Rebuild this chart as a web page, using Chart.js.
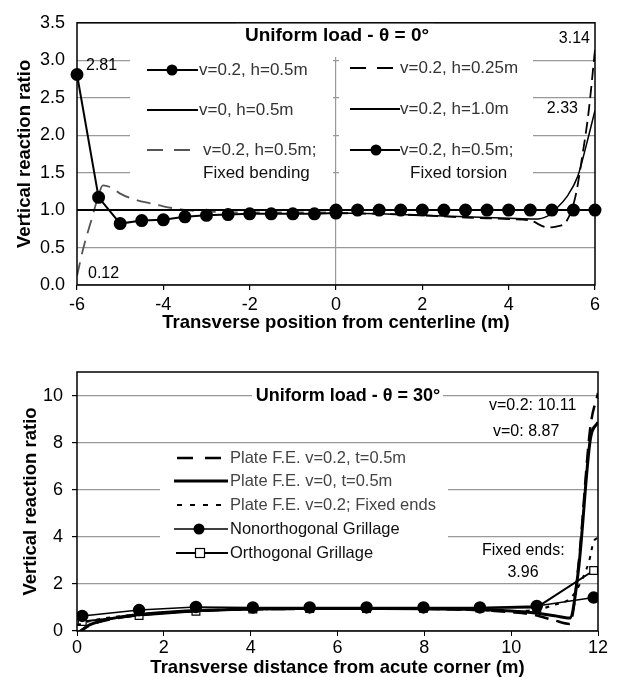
<!DOCTYPE html>
<html>
<head>
<meta charset="utf-8">
<script src="https://cdn.jsdelivr.net/npm/chart.js@4.4.0/dist/chart.umd.min.js"></script>
<style>
    body { margin: 0; background: #fff; }
    canvas { position: absolute; left: 0; }
    #topChart { top: 0; }
    #bottomChart { top: 335px; }
</style>
</head>
<body>
<canvas id="topChart" width="618" height="335"></canvas>
<canvas id="bottomChart" width="618" height="342"></canvas>
<script>
// ---- theta = 0 deg ----
const leftHalfX = [-6, -5.5, -5, -4.5, -4, -3.5, -3, -2.5, -2, -1.5, -1, -0.5, 0];
const v02h05Left = [2.81, 1.17, 0.82, 0.86, 0.87, 0.91, 0.93, 0.94, 0.95, 0.95, 0.95, 0.95, 0.96];
const v0h05X = [-6, 0];
const v0h05 = [1.0, 1.0];
const fixedBendingX = [-6, -5.85, -5.65, -5.5, -5.4, -5.2, -5, -4.6, -4.3, -4, -3.6, -3, -2, -1, 0];
const fixedBending = [0.12, 0.5, 0.9, 1.2, 1.33, 1.3, 1.22, 1.13, 1.09, 1.05, 1.01, 0.98, 0.97, 0.97, 0.97];
const h025X = [0, 1, 2, 3, 4, 4.5, 4.9, 5.1, 5.35, 5.55, 5.7, 5.85, 6];
const h025 = [0.96, 0.95, 0.93, 0.9, 0.88, 0.86, 0.77, 0.78, 0.86, 1.19, 1.7, 2.3, 3.14];
const h10X = [0, 1, 2, 3, 4, 4.6, 4.9, 5.1, 5.35, 5.6, 5.8, 6];
const h10 = [0.96, 0.95, 0.93, 0.91, 0.89, 0.88, 0.92, 1.02, 1.18, 1.45, 1.87, 2.33];
const rightHalfX = [0, 0.5, 1, 1.5, 2, 2.5, 3, 3.5, 4, 4.5, 5, 5.5, 6];
const fixedTorsion = [1.0, 1.0, 1.0, 1.0, 1.0, 1.0, 1.0, 1.0, 1.0, 1.0, 1.0, 1.0, 1.0];
const topXTicks = [-6, -4, -2, 0, 2, 4, 6];
const topYTicks = [0, 0.5, 1, 1.5, 2, 2.5, 3, 3.5];

// ---- theta = 30 deg ----
const plateX = [0, 0.25, 0.5, 1, 1.5, 2, 3, 4, 5, 6, 7, 8, 9, 10, 10.5, 11, 11.35, 11.55, 11.82, 12];
const plateV02 = [-0.1, 0.2, 0.38, 0.57, 0.69, 0.77, 0.87, 0.92, 0.94, 0.95, 0.95, 0.94, 0.9, 0.8, 0.7, 0.45, 0.3, 2.8, 8.6, 10.11];
const plateV0 = [-0.15, 0.22, 0.4, 0.6, 0.71, 0.79, 0.89, 0.93, 0.95, 0.96, 0.96, 0.95, 0.92, 0.85, 0.78, 0.65, 0.55, 2.6, 8.1, 8.87];
const fixedEndsX = [0, 0.25, 0.5, 1, 1.5, 2, 3, 4, 5, 6, 7, 8, 9, 10, 10.5, 10.97, 11.4, 11.66, 11.8, 11.9, 12];
const fixedEnds = [0.25, 0.4, 0.5, 0.63, 0.72, 0.79, 0.88, 0.92, 0.94, 0.95, 0.95, 0.94, 0.9, 0.85, 0.88, 1.1, 1.46, 2.3, 3.0, 3.8, 3.96];
const grillageX = [0.12, 1.43, 2.74, 4.05, 5.36, 6.67, 7.98, 9.28, 10.59, 11.9];
const nonorthGrillage = [0.64, 0.89, 1.02, 1.0, 1.0, 1.0, 1.0, 1.0, 1.06, 1.42];
const orthGrillage = [0.4, 0.66, 0.84, 0.93, 0.95, 0.96, 0.97, 0.98, 1.0, 2.57];
const bottomXTicks = [0, 2, 4, 6, 8, 10, 12];
const bottomYTicks = [0, 2, 4, 6, 8, 10];

const FONT = "'Liberation Sans', Arial, Helvetica, sans-serif";
Chart.defaults.font.family = FONT;
Chart.defaults.color = '#000';

function points(xs, ys) {
    return xs.map((x, i) => ({ x: x, y: ys[i] }));
}

function keepTicks(values) {
    return scale => {
        scale.ticks = values.map(v => ({ value: v }));
    };
}

function drawSample(ctx, x1, x2, y, opts) {
    ctx.save();
    ctx.strokeStyle = opts.color || '#000';
    ctx.lineWidth = opts.width || 2;
    ctx.setLineDash(opts.dash || []);
    ctx.beginPath();
    ctx.moveTo(x1, y);
    ctx.lineTo(x2, y);
    ctx.stroke();
    ctx.setLineDash([]);
    if (opts.marker === 'dot') {
        ctx.fillStyle = '#000';
        ctx.beginPath();
        ctx.arc(opts.mx, y, 5.5, 0, Math.PI * 2);
        ctx.fill();
    } else if (opts.marker === 'square') {
        ctx.fillStyle = '#fff';
        ctx.lineWidth = 1.2;
        ctx.fillRect(opts.mx - 4.5, y - 4.5, 9, 9);
        ctx.strokeRect(opts.mx - 4.5, y - 4.5, 9, 9);
    }
    ctx.restore();
}

function text(ctx, str, x, y, font, align, color) {
    ctx.save();
    ctx.font = font;
    ctx.fillStyle = color || '#000';
    ctx.textAlign = align || 'left';
    ctx.textBaseline = 'middle';
    ctx.fillText(str, x, y);
    ctx.restore();
}

function framePlugin() {
    return {
        id: 'frame',
        afterDraw(chart) {
            const a = chart.chartArea;
            const ctx = chart.ctx;
            ctx.save();
            ctx.strokeStyle = '#000';
            ctx.lineWidth = 1.5;
            ctx.strokeRect(a.left, a.top, a.right - a.left, a.bottom - a.top);
            ctx.restore();
        }
    };
}

const topOverlay = {
    id: 'topOverlay',
    beforeDatasetsDraw(chart) {
        const ctx = chart.ctx;
        ctx.save();
        ctx.fillStyle = '#fff';
        ctx.fillRect(130, 47, 203, 140);
        ctx.fillRect(339, 47, 194, 140);
        ctx.fillRect(236, 19, 198, 38);
        ctx.restore();
        text(ctx, 'Uniform load - θ = 0°', 337, 36, "bold 19px " + FONT, 'center');
    },
    afterDatasetsDraw(chart) {
        const ctx = chart.ctx;
        const f = "17px " + FONT;
        drawSample(ctx, 147, 198, 70, { width: 2, marker: 'dot', mx: 172 });
        text(ctx, 'v=0.2, h=0.5m', 199, 70, f, 'left', '#333');
        drawSample(ctx, 147, 198, 110, { width: 2 });
        text(ctx, 'v=0, h=0.5m', 199, 110, f, 'left', '#333');
        drawSample(ctx, 147, 196, 150, { width: 2, color: '#555', dash: [16, 11] });
        text(ctx, 'v=0.2, h=0.5m;', 203, 150, f, 'left', '#333');
        text(ctx, 'Fixed bending', 203, 173, f, 'left', '#111');

        drawSample(ctx, 350, 397, 68, { width: 2, dash: [16, 11] });
        text(ctx, 'v=0.2, h=0.25m', 400, 68, f, 'left', '#333');
        drawSample(ctx, 350, 400, 109, { width: 2 });
        text(ctx, 'v=0.2, h=1.0m', 400, 109, f, 'left', '#333');
        drawSample(ctx, 350, 400, 150, { width: 2, marker: 'dot', mx: 376 });
        text(ctx, 'v=0.2, h=0.5m;', 400, 150, f, 'left', '#333');
        text(ctx, 'Fixed torsion', 410, 173, f, 'left', '#111');

        const a = "16px " + FONT;
        text(ctx, '2.81', 86, 66, a);
        text(ctx, '0.12', 88, 274, a);
        text(ctx, '3.14', 590, 39, a, 'right');
        text(ctx, '2.33', 578, 109, a, 'right');
    }
};

const bottomOverlay = {
    id: 'bottomOverlay',
    beforeDatasetsDraw(chart) {
        const ctx = chart.ctx;
        ctx.save();
        ctx.fillStyle = '#fff';
        ctx.fillRect(252, 48, 191, 27);
        ctx.fillRect(160, 112, 288, 126);
        ctx.restore();
        text(ctx, 'Uniform load - θ = 30°', 348, 61, "bold 18px " + FONT, 'center');
    },
    afterDatasetsDraw(chart) {
        const ctx = chart.ctx;
        const f = "16.5px " + FONT;
        drawSample(ctx, 177, 222, 123, { width: 2.5, dash: [16, 12] });
        text(ctx, 'Plate F.E. v=0.2, t=0.5m', 230, 123, f, 'left', '#444');
        drawSample(ctx, 174, 228, 146, { width: 3 });
        text(ctx, 'Plate F.E. v=0, t=0.5m', 230, 146, f, 'left', '#444');
        drawSample(ctx, 177, 228, 170, { width: 2, dash: [5, 8] });
        text(ctx, 'Plate F.E. v=0.2; Fixed ends', 230, 170, f, 'left', '#444');
        drawSample(ctx, 174, 228, 194, { width: 1.5, marker: 'dot', mx: 199 });
        text(ctx, 'Nonorthogonal Grillage', 230, 194, f, 'left', '#111');
        drawSample(ctx, 176, 228, 218, { width: 2, marker: 'square', mx: 200 });
        text(ctx, 'Orthogonal Grillage', 230, 218, f, 'left', '#111');

        const a = "16px " + FONT;
        text(ctx, 'v=0.2: 10.11', 489, 71, a);
        text(ctx, 'v=0: 8.87', 493, 97, a);
        text(ctx, 'Fixed ends:', 482, 216, a);
        text(ctx, '3.96', 523, 238, a, 'center');
    }
};

new Chart(document.getElementById('topChart'), {
    type: 'line',
    data: {
        datasets: [
            { data: points(leftHalfX, v02h05Left), borderColor: '#000', backgroundColor: '#000', borderWidth: 2, pointRadius: 5.5, clip: false },
            { data: points(v0h05X, v0h05), borderColor: '#000', borderWidth: 2, pointRadius: 0 },
            { data: points(fixedBendingX, fixedBending), borderColor: '#555', borderWidth: 1.8, borderDash: [14, 8], pointRadius: 0, cubicInterpolationMode: 'monotone' },
            { data: points(h025X, h025), borderColor: '#000', borderWidth: 1.8, borderDash: [12, 6], pointRadius: 0, cubicInterpolationMode: 'monotone' },
            { data: points(h10X, h10), borderColor: '#000', borderWidth: 1.5, pointRadius: 0, cubicInterpolationMode: 'monotone' },
            { data: points(rightHalfX, fixedTorsion), borderColor: '#000', backgroundColor: '#000', borderWidth: 2, pointRadius: 5.5, clip: false }
        ]
    },
    options: {
        responsive: false,
        animation: false,
        layout: { padding: { left: 0, right: 23, top: 15, bottom: 0 } },
        plugins: { legend: { display: false }, tooltip: { enabled: false } },
        scales: {
            x: {
                type: 'linear', min: -6, max: 6,
                afterBuildTicks: keepTicks(topXTicks),
                afterFit: s => { s.height = 50; },
                grid: {
                    color: c => (c.tick && c.tick.value === 0) ? '#999' : 'rgba(0,0,0,0)',
                    tickColor: '#000', tickLength: 5, lineWidth: 1.2
                },
                border: { display: false },
                ticks: { font: { size: 18, lineHeight: 1 }, padding: 6, color: '#000' },
                title: { display: true, text: 'Transverse position from centerline (m)', font: { size: 18.5, weight: 'bold', lineHeight: 1 }, padding: { top: 0, bottom: 3 }, color: '#000' }
            },
            y: {
                min: 0, max: 3.5,
                afterBuildTicks: keepTicks(topYTicks),
                afterFit: s => { s.width = 77; },
                grid: { color: '#999', lineWidth: 1.2, drawTicks: false },
                border: { display: false },
                ticks: { font: { size: 18 }, padding: 12, color: '#000', callback: v => v.toFixed(1) },
                title: { display: true, text: 'Vertical reaction ratio', font: { size: 18.5, weight: 'bold', lineHeight: 1 }, padding: { top: 16, bottom: 0 }, color: '#000' }
            }
        }
    },
    plugins: [topOverlay, framePlugin()]
});

new Chart(document.getElementById('bottomChart'), {
    type: 'line',
    data: {
        datasets: [
            { data: points(plateX, plateV02), borderColor: '#000', borderWidth: 2.5, borderDash: [14, 8], pointRadius: 0, cubicInterpolationMode: 'monotone' },
            { data: points(plateX, plateV0), borderColor: '#000', borderWidth: 3, pointRadius: 0, cubicInterpolationMode: 'monotone' },
            { data: points(fixedEndsX, fixedEnds), borderColor: '#000', borderWidth: 2, borderDash: [4, 6], pointRadius: 0, cubicInterpolationMode: 'monotone' },
            { data: points(grillageX, nonorthGrillage), borderColor: '#000', backgroundColor: '#000', borderWidth: 1.5, pointRadius: 5.5 },
            { data: points(grillageX, orthGrillage), borderColor: '#000', backgroundColor: '#fff', borderWidth: 2, pointStyle: 'rect', pointRadius: 5.5, pointBorderWidth: 1.2 }
        ]
    },
    options: {
        responsive: false,
        animation: false,
        layout: { padding: { left: 0, right: 20, top: 37, bottom: 0 } },
        plugins: { legend: { display: false }, tooltip: { enabled: false } },
        scales: {
            x: {
                type: 'linear', min: 0, max: 12,
                afterBuildTicks: keepTicks(bottomXTicks),
                afterFit: s => { s.height = 46; },
                grid: { color: 'rgba(0,0,0,0)', tickColor: '#000', tickLength: 5 },
                border: { display: false },
                ticks: { font: { size: 18, lineHeight: 1 }, padding: 3, color: '#000' },
                title: { display: true, text: 'Transverse distance from acute corner (m)', font: { size: 18.5, weight: 'bold', lineHeight: 1 }, padding: { top: 0, bottom: 0 }, color: '#000' }
            },
            y: {
                min: 0, max: 11,
                afterBuildTicks: keepTicks(bottomYTicks),
                afterFit: s => { s.width = 77; },
                grid: { color: '#999', lineWidth: 1.2, tickColor: '#000', tickLength: 5 },
                border: { display: false },
                ticks: { font: { size: 18 }, padding: 9, color: '#000' },
                title: { display: true, text: 'Vertical reaction ratio', font: { size: 18.5, weight: 'bold', lineHeight: 1 }, padding: { top: 22, bottom: 0 }, color: '#000' }
            }
        }
    },
    plugins: [bottomOverlay, framePlugin()]
});
</script>
</body>
</html>
